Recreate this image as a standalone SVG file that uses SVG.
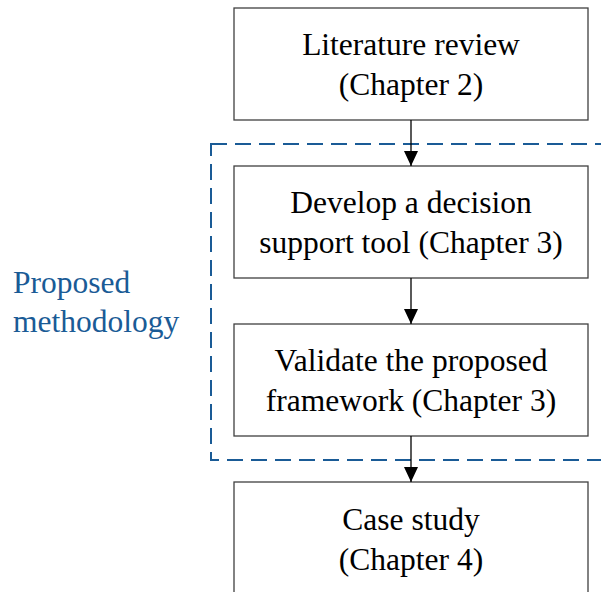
<svg xmlns="http://www.w3.org/2000/svg" width="601" height="592" viewBox="0 0 601 592">
<style>
.box{fill:#ffffff;stroke:#404040;stroke-width:1.3}
.t{font-family:"Liberation Serif","Times New Roman",serif;font-size:31.5px;fill:#000000;text-anchor:middle}
.lab{font-family:"Liberation Serif","Times New Roman",serif;font-size:31.5px;fill:#1a5b96}
.edge{stroke:#000000;stroke-width:1.3;fill:none}
</style>
<defs>
<marker id="ah" viewBox="0 0 15 14" refX="15" refY="7" markerWidth="15" markerHeight="14" markerUnits="userSpaceOnUse" orient="auto">
<path d="M0,0 L15,7 L0,14 Z" fill="#000000"/>
</marker>
</defs>
<rect width="601" height="592" fill="#ffffff"/>
<g id="group-proposed">
<rect x="211" y="144" width="410" height="316" fill="none" stroke="#1a5b96" stroke-width="2" stroke-dasharray="16,8"/>
<text class="lab" x="13" y="293">Proposed</text>
<text class="lab" x="13" y="332">methodology</text>
</g>
<g id="node-literature">
<rect class="box" x="234" y="8" width="354" height="112"/>
<text class="t" x="411" y="55">Literature review</text>
<text class="t" x="411" y="95">(Chapter 2)</text>
</g>
<g id="node-develop">
<rect class="box" x="234" y="166" width="354" height="112"/>
<text class="t" x="411" y="213">Develop a decision</text>
<text class="t" x="411" y="253">support tool (Chapter 3)</text>
</g>
<g id="node-validate">
<rect class="box" x="234" y="324" width="354" height="112"/>
<text class="t" x="411" y="371">Validate the proposed</text>
<text class="t" x="411" y="411">framework (Chapter 3)</text>
</g>
<g id="node-case">
<rect class="box" x="234" y="482" width="354" height="130"/>
<text class="t" x="411" y="530">Case study</text>
<text class="t" x="411" y="570">(Chapter 4)</text>
</g>
<g id="connectors">
<line class="edge" x1="411" y1="120" x2="411" y2="166" marker-end="url(#ah)"/>
<line class="edge" x1="411" y1="278" x2="411" y2="324" marker-end="url(#ah)"/>
<line class="edge" x1="411" y1="436" x2="411" y2="482" marker-end="url(#ah)"/>
</g>
</svg>
